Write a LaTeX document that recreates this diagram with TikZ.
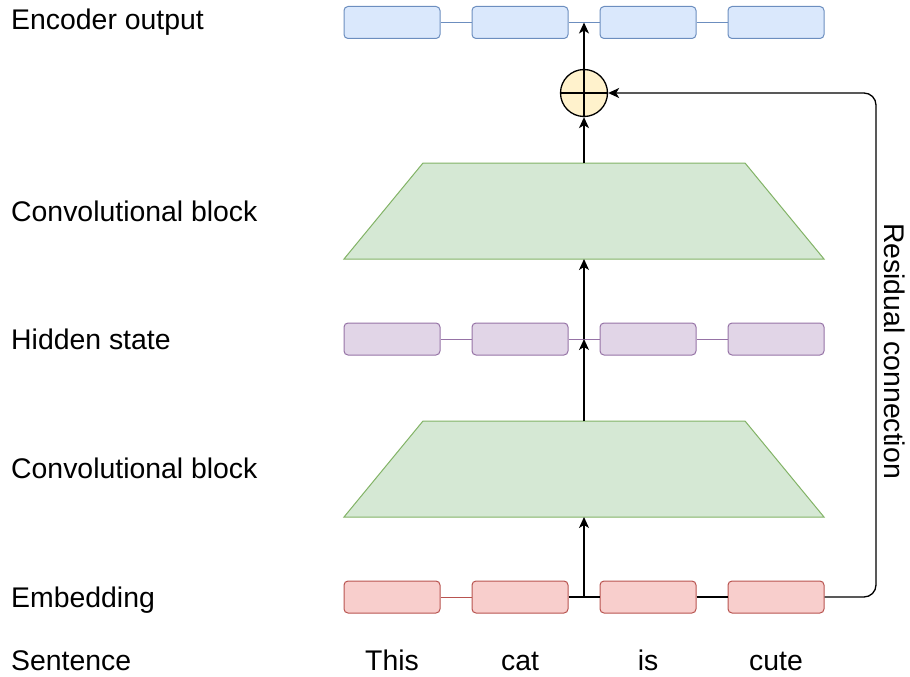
\documentclass[tikz,border=0pt]{standalone}
\usepackage{fontspec}
\setmainfont{Liberation Sans}
\usetikzlibrary{arrows.meta}
\definecolor{bfill}{HTML}{DAE8FC}\definecolor{bline}{HTML}{6C8EBF}
\definecolor{pfill}{HTML}{E1D5E7}\definecolor{pline}{HTML}{9673A6}
\definecolor{rfill}{HTML}{F8CECC}\definecolor{rline}{HTML}{B85450}
\definecolor{gfill}{HTML}{D5E8D4}\definecolor{gline}{HTML}{82B366}
\definecolor{yfill}{HTML}{FFF2CC}
\tikzset{
  cell/.style={draw, rounded corners=4pt, minimum width=96pt, minimum height=32pt, inner sep=0pt, line width=1pt},
  bcell/.style={cell, fill=bfill, draw=bline},
  pcell/.style={cell, fill=pfill, draw=pline},
  rcell/.style={cell, fill=rfill, draw=rline},
  trap/.style={fill=gfill, draw=gline, line width=1pt},
  lbl/.style={anchor=base west, inner sep=0pt, font=\fontsize{28.4}{32}\selectfont},
  word/.style={anchor=base, inner sep=0pt, font=\fontsize{28.4}{32}\selectfont},
  arr/.style={line width=1.3pt, -{Stealth[length=11pt,width=10pt,inset=3pt]}},
  blk/.style={line width=1.3pt},
}
\begin{document}
\begin{tikzpicture}[x=1pt,y=-1pt]
\useasboundingbox (0,0) rectangle (910,677);
% rows
\foreach \i/\x in {1/392,2/520,3/648,4/776}{
  \node[bcell] (b\i) at (\x,22.5) {};
  \node[pcell] (p\i) at (\x,339) {};
  \node[rcell] (r\i) at (\x,597) {};
}
\draw[bline,line width=1pt] (b1.east)--(b2.west) (b2.east)--(b3.west) (b3.east)--(b4.west);
\draw[pline,line width=1pt] (p1.east)--(p2.west) (p2.east)--(p3.west) (p3.east)--(p4.west);
\draw[rline,line width=1pt] (r1.east)--(r2.west);
\draw[blk] (r2.east)--(r3.west) (r3.east)--(r4.west);
\coordinate (btop) at (584,22.5);
\coordinate (pmid) at (584,339);
\coordinate (rmid) at (584,597);
% trapezoids
\draw[trap] (344,259)--(423,163)--(745,163)--(824,259)--cycle;
\coordinate (t1top) at (584,163);
\coordinate (t1bot) at (584,259);
\draw[trap] (344,517)--(423,421)--(745,421)--(824,517)--cycle;
\coordinate (t2top) at (584,421);
\coordinate (t2bot) at (584,517);
% sum
\node[circle, draw=black, fill=yfill, line width=1.3pt, minimum size=47pt, inner sep=0pt] (sum) at (584,93) {};
\draw[blk] (sum.north)--(sum.south) (sum.west)--(sum.east);
% arrows
\draw[arr] (rmid)--(t2bot);
\draw[arr] (t2top)--(pmid);
\draw[arr] (pmid)--(t1bot);
\draw[arr] (t1top)--(sum.south);
\draw[arr] (sum.north)--(btop);
\coordinate (c1) at (876,597);
\coordinate (c2) at (876,93);
\draw[arr, rounded corners=12pt] (r4.east)--(c1)--(c2)--(sum.east);
% labels
\node[lbl] (l1) at (11,30) {Encoder output};
\node[lbl] (l2) at (11,221) {Convolutional block};
\node[lbl] (l3) at (11,349) {Hidden state};
\node[lbl] (l4) at (11,478) {Convolutional block};
\node[lbl] (l5) at (11,607) {Embedding};
\node[lbl] (l6) at (11,670) {Sentence};
\node[word] (w1) at (392,670) {This};
\node[word] (w2) at (520,670) {cat};
\node[word] (w3) at (648,670) {is};
\node[word] (w4) at (776,670) {cute};
\node[rotate=-90, inner sep=0pt, font=\fontsize{28.4}{32}\selectfont] (res) at (895,351) {Residual connection};
\end{tikzpicture}
\end{document}
